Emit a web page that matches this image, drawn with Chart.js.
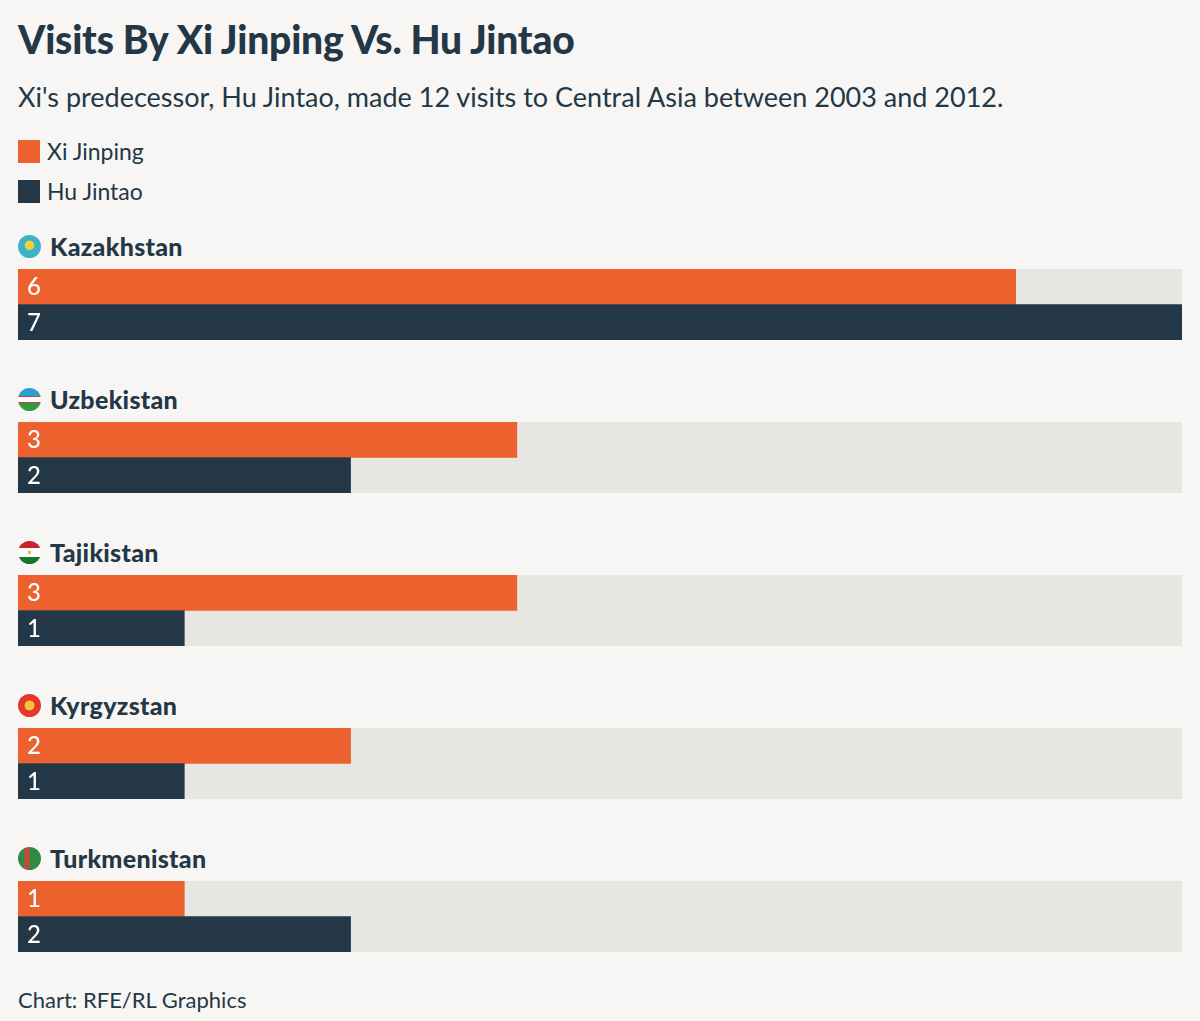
<!DOCTYPE html>
<html>
<head>
<meta charset="utf-8">
<script src="https://cdn.jsdelivr.net/npm/chart.js@4/dist/chart.umd.min.js"></script>
<style>
    body {
        margin: 0;
        background: #f7f6f4;
        font-family: Lato, "Noto Sans", sans-serif;
        color: #233746;
    }
    .wrap { padding: 0 18px; width: 1164px; }
    h1 {
        margin: 0;
        padding-top: 16px;
        font-size: 39px;
        line-height: 46px;
        font-weight: 900;
        letter-spacing: -0.2px;
    }
    .sub {
        margin-top: 15px;
        font-size: 27px;
        line-height: 40px;
    }
    .legend { margin-top: 14px; }
    .legend div {
        font-size: 23px;
        line-height: 40px;
        display: flex;
        align-items: center;
    }
    .legend span {
        display: inline-block;
        width: 22px;
        height: 23px;
        margin-right: 7px;
    }
    .group { margin-top: 43px; }
    .group.first { margin-top: 19px; }
    .head {
        font-size: 25px;
        font-weight: 900;
        line-height: 32px;
        letter-spacing: 0.3px;
        display: flex;
        align-items: center;
    }
    .flag {
        display: inline-block;
        width: 23px;
        height: 23px;
        border-radius: 50%;
        margin-right: 9px;
    }
    .box { margin-top: 7px; position: relative; width: 1164px; height: 71px; }
    .foot {
        margin-top: 33px;
        font-size: 22px;
        line-height: 30px;
    }
</style>
</head>
<body>
<div class="wrap">
    <h1>Visits By Xi Jinping Vs. Hu Jintao</h1>
    <div class="sub">Xi's predecessor, Hu Jintao, made 12 visits to Central Asia between 2003 and 2012.</div>
    <div class="legend" id="legend"></div>
    <div id="groups"></div>
    <div class="foot">Chart: RFE/RL Graphics</div>
</div>
<script>
// data
const countries = ["Kazakhstan", "Uzbekistan", "Tajikistan", "Kyrgyzstan", "Turkmenistan"];
const xiVisits = [6, 3, 3, 2, 1];
const huVisits = [7, 2, 1, 1, 2];
const seriesNames = ["Xi Jinping", "Hu Jintao"];
const axisMax = 7;

const colors = ["#ec612d", "#233746"];
const trackColor = "#e8e6e3";

const flags = {
    Kazakhstan: "radial-gradient(circle at 50% 45%, #f2cf3c 0 26%, #3cb3c7 30%)",
    Uzbekistan: "linear-gradient(#2aa0cf 0 34%, #d9354a 34% 37%, #fff 37% 63%, #d9354a 63% 66%, #2f9e41 66%)",
    Tajikistan: "radial-gradient(circle at 50% 50%, #e3b83a 0 10%, transparent 12%), linear-gradient(#c9242b 0 32%, #fff 32% 68%, #16762c 68%)",
    Kyrgyzstan: "radial-gradient(circle, #f6c33a 0 28%, #e5382b 33%)",
    Turkmenistan: "linear-gradient(90deg, #2e8b43 0 28%, #b4513a 28% 52%, #2e8b43 52%)"
};

/*=========================================
LEGEND
=========================================*/
const legend = document.getElementById("legend");
seriesNames.forEach(function (name, i) {
    const row = document.createElement("div");
    row.innerHTML = '<span style="background:' + colors[i] + '"></span>' + name;
    legend.appendChild(row);
});

/*=========================================
PLUGINS
=========================================*/
const trackPlugin = {
    id: "track",
    beforeDatasetsDraw(chart) {
        const ctx = chart.ctx;
        const x = chart.scales.x;
        const a = chart.chartArea;
        ctx.save();
        ctx.fillStyle = trackColor;
        ctx.fillRect(x.getPixelForValue(0), a.top, x.getPixelForValue(axisMax) - x.getPixelForValue(0), a.bottom - a.top);
        ctx.restore();
    }
};

const valuePlugin = {
    id: "values",
    afterDatasetsDraw(chart) {
        const ctx = chart.ctx;
        const meta = chart.getDatasetMeta(0);
        const data = chart.data.datasets[0].data;
        ctx.save();
        ctx.fillStyle = "#ffffff";
        ctx.font = "500 24px Lato, 'Noto Sans', sans-serif";
        ctx.textBaseline = "middle";
        meta.data.forEach(function (bar, i) {
            ctx.fillText(String(data[i]), chart.chartArea.left + 9, bar.y + 1);
        });
        ctx.restore();
    }
};

/*=========================================
GROUPS
=========================================*/
const groups = document.getElementById("groups");

countries.forEach(function (name, i) {

    const group = document.createElement("div");
    group.className = "group" + (i === 0 ? " first" : "");
    group.innerHTML =
        '<div class="head"><span class="flag" style="background:' + flags[name] + '"></span>' + name + '</div>' +
        '<div class="box"><canvas></canvas></div>';
    groups.appendChild(group);

    const canvas = group.querySelector("canvas");

    new Chart(canvas, {
        type: "bar",
        data: {
            labels: seriesNames,
            datasets: [
                {
                    data: [xiVisits[i], huVisits[i]],
                    backgroundColor: colors,
                    barPercentage: 1,
                    categoryPercentage: 1,
                    borderWidth: 0
                }
            ]
        },
        options: {
            indexAxis: "y",
            responsive: true,
            maintainAspectRatio: false,
            animation: false,
            layout: { padding: 0 },
            plugins: {
                legend: { display: false },
                tooltip: { enabled: false }
            },
            scales: {
                x: { min: 0, max: axisMax, display: false },
                y: { display: false }
            }
        },
        plugins: [trackPlugin, valuePlugin]
    });
});
</script>
</body>
</html>
